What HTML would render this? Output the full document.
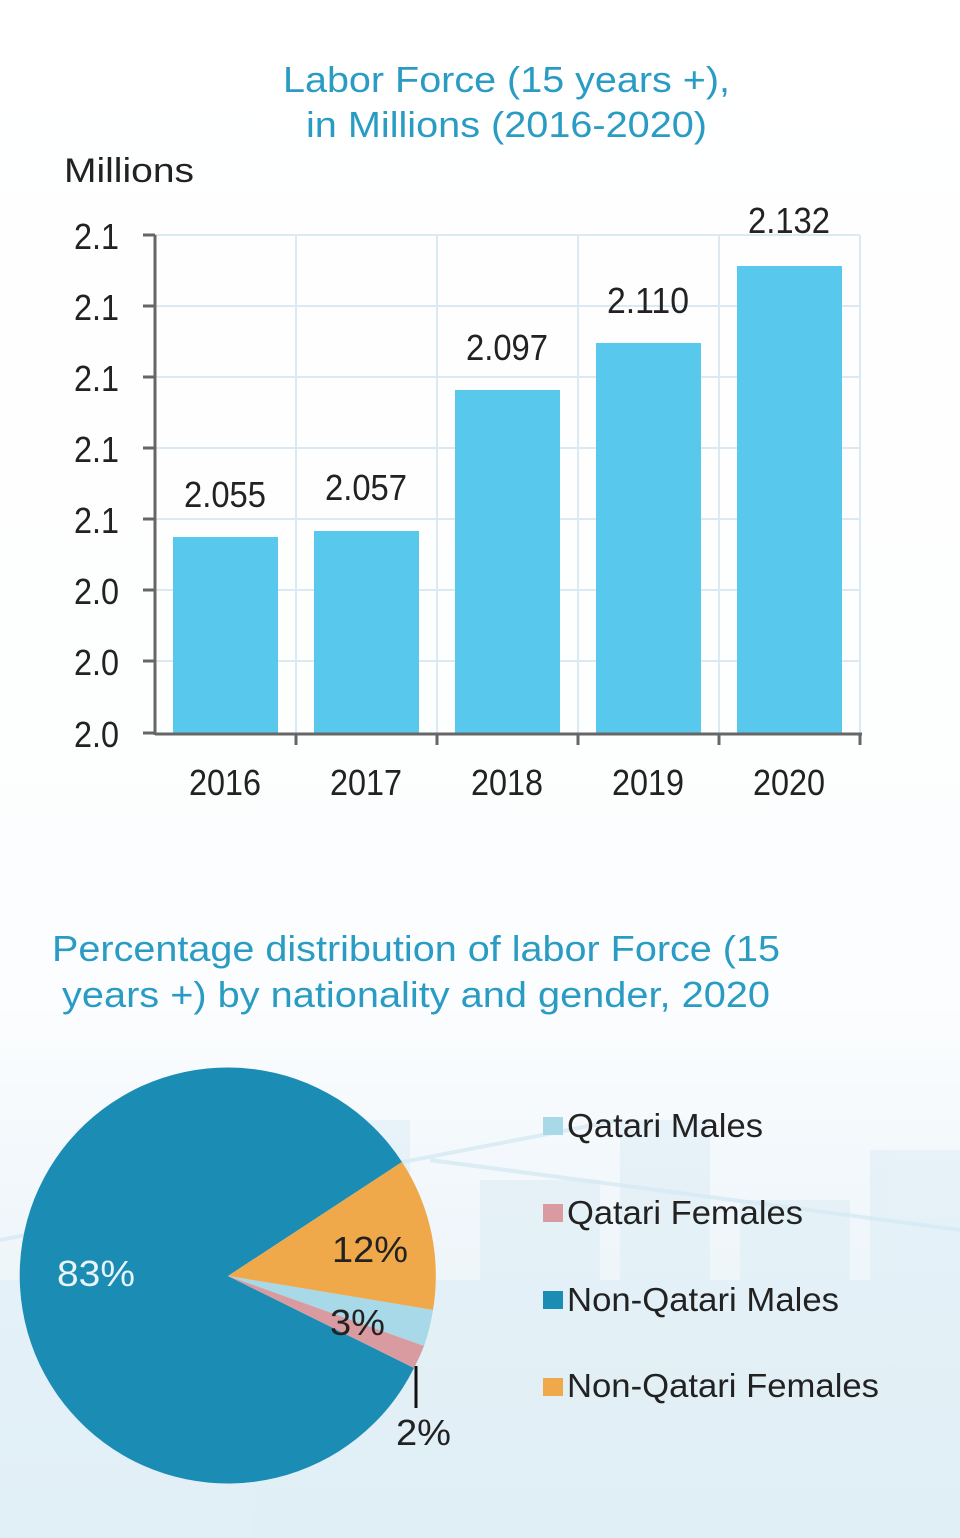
<!DOCTYPE html>
<html><head><meta charset="utf-8"><style>
html,body{margin:0;padding:0;background:#fff;}
svg{display:block;}
text{font-family:"Liberation Sans",sans-serif;}
</style></head><body>
<svg width="960" height="1538" viewBox="0 0 960 1538" xmlns="http://www.w3.org/2000/svg">
<defs>
<linearGradient id="bg" x1="0" y1="0" x2="0" y2="1">
<stop offset="0" stop-color="#ffffff"/>
<stop offset="0.65" stop-color="#fcfdfe"/>
<stop offset="0.78" stop-color="#f1f7fb"/>
<stop offset="1" stop-color="#e6f1f7"/>
</linearGradient>
</defs>
<rect width="960" height="1538" fill="url(#bg)"/>
<g fill="#dcedf5" opacity="0.55">
<rect x="0" y="1280" width="960" height="258"/>
<rect x="480" y="1180" width="120" height="358"/>
<rect x="620" y="1120" width="90" height="418"/>
<rect x="740" y="1200" width="110" height="338"/>
<rect x="870" y="1150" width="90" height="388"/>
<rect x="330" y="1120" width="80" height="418"/>
</g>
<g stroke="#d6eaf3" stroke-width="4" fill="none" opacity="0.8">
<line x1="0" y1="1240" x2="620" y2="1120"/>
<line x1="430" y1="1160" x2="960" y2="1230"/>
</g>

<text x="283" y="92" font-size="36" fill="#2a9cc4" textLength="447" lengthAdjust="spacingAndGlyphs">Labor Force (15 years +),</text>
<text x="306" y="137" font-size="36" fill="#2a9cc4" textLength="401" lengthAdjust="spacingAndGlyphs">in Millions (2016-2020)</text>
<text x="64" y="182" font-size="34" fill="#222" textLength="130" lengthAdjust="spacingAndGlyphs">Millions</text>

<g stroke="#dbe9f2" stroke-width="2">
<line x1="155" y1="235" x2="860" y2="235"/>
<line x1="155" y1="306" x2="860" y2="306"/>
<line x1="155" y1="377" x2="860" y2="377"/>
<line x1="155" y1="448" x2="860" y2="448"/>
<line x1="155" y1="519" x2="860" y2="519"/>
<line x1="155" y1="590" x2="860" y2="590"/>
<line x1="155" y1="661" x2="860" y2="661"/>
<line x1="296" y1="235" x2="296" y2="733"/>
<line x1="437" y1="235" x2="437" y2="733"/>
<line x1="578" y1="235" x2="578" y2="733"/>
<line x1="719" y1="235" x2="719" y2="733"/>
<line x1="860" y1="235" x2="860" y2="733"/>
</g>
<g fill="#58c9ec">
<rect x="173" y="537" width="105" height="196"/>
<rect x="314" y="531" width="105" height="202"/>
<rect x="455" y="390" width="105" height="343"/>
<rect x="596" y="343" width="105" height="390"/>
<rect x="737" y="266" width="105" height="467"/>
</g>
<g stroke="#666" stroke-width="3" fill="none">
<line x1="155" y1="235" x2="155" y2="735"/>
<line x1="155" y1="734" x2="862" y2="734"/>
<line x1="143" y1="235" x2="155" y2="235"/>
<line x1="143" y1="306" x2="155" y2="306"/>
<line x1="143" y1="377" x2="155" y2="377"/>
<line x1="143" y1="448" x2="155" y2="448"/>
<line x1="143" y1="519" x2="155" y2="519"/>
<line x1="143" y1="590" x2="155" y2="590"/>
<line x1="143" y1="661" x2="155" y2="661"/>
<line x1="143" y1="733" x2="155" y2="733"/>
<line x1="296" y1="734" x2="296" y2="745"/>
<line x1="437" y1="734" x2="437" y2="745"/>
<line x1="578" y1="734" x2="578" y2="745"/>
<line x1="719" y1="734" x2="719" y2="745"/>
<line x1="860" y1="734" x2="860" y2="745"/>
</g>
<g font-size="36" fill="#222">
<text x="74" y="249" textLength="45" lengthAdjust="spacingAndGlyphs">2.1</text>
<text x="74" y="320" textLength="45" lengthAdjust="spacingAndGlyphs">2.1</text>
<text x="74" y="391" textLength="45" lengthAdjust="spacingAndGlyphs">2.1</text>
<text x="74" y="462" textLength="45" lengthAdjust="spacingAndGlyphs">2.1</text>
<text x="74" y="533" textLength="45" lengthAdjust="spacingAndGlyphs">2.1</text>
<text x="74" y="604" textLength="45" lengthAdjust="spacingAndGlyphs">2.0</text>
<text x="74" y="675" textLength="45" lengthAdjust="spacingAndGlyphs">2.0</text>
<text x="74" y="747" textLength="45" lengthAdjust="spacingAndGlyphs">2.0</text>
<text x="189" y="795" textLength="72" lengthAdjust="spacingAndGlyphs">2016</text>
<text x="330" y="795" textLength="72" lengthAdjust="spacingAndGlyphs">2017</text>
<text x="471" y="795" textLength="72" lengthAdjust="spacingAndGlyphs">2018</text>
<text x="612" y="795" textLength="72" lengthAdjust="spacingAndGlyphs">2019</text>
<text x="753" y="795" textLength="72" lengthAdjust="spacingAndGlyphs">2020</text>
<text x="184" y="507" textLength="82" lengthAdjust="spacingAndGlyphs">2.055</text>
<text x="325" y="500" textLength="82" lengthAdjust="spacingAndGlyphs">2.057</text>
<text x="466" y="360" textLength="82" lengthAdjust="spacingAndGlyphs">2.097</text>
<text x="607" y="313" textLength="82" lengthAdjust="spacingAndGlyphs">2.110</text>
<text x="748" y="233" textLength="82" lengthAdjust="spacingAndGlyphs">2.132</text>
</g>

<text x="52" y="961" font-size="36" fill="#2a9cc4" textLength="728" lengthAdjust="spacingAndGlyphs">Percentage distribution of labor Force (15</text>
<text x="62" y="1007" font-size="36" fill="#2a9cc4" textLength="708" lengthAdjust="spacingAndGlyphs">years +) by nationality and gender, 2020</text>

<g transform="translate(228,1276)">
<path d="M0,0 L186,92 A208,208 0 1,1 174,-114 Z" fill="#1b8db5"/>
<path d="M0,0 L174,-114 A208,208 0 0,1 205,34 Z" fill="#f0a94a"/>
<path d="M0,0 L205,34 A208,208 0 0,1 196,70 Z" fill="#a8d9e8"/>
<path d="M0,0 L196,70 A208,208 0 0,1 186,92 Z" fill="#d99aa0"/>
</g>
<line x1="416" y1="1366" x2="416" y2="1408" stroke="#111" stroke-width="3"/>
<g font-size="36">
<text x="57" y="1286" fill="#e8f4f8" textLength="78" lengthAdjust="spacingAndGlyphs">83%</text>
<text x="332" y="1262" fill="#222" textLength="76" lengthAdjust="spacingAndGlyphs">12%</text>
<text x="330" y="1335" fill="#222" textLength="55" lengthAdjust="spacingAndGlyphs">3%</text>
<text x="396" y="1445" fill="#222" textLength="55" lengthAdjust="spacingAndGlyphs">2%</text>
</g>
<rect x="543" y="1117" width="20" height="18" fill="#a8d9e8"/>
<rect x="543" y="1204" width="20" height="18" fill="#d99aa0"/>
<rect x="543" y="1291" width="20" height="18" fill="#1b8db5"/>
<rect x="543" y="1378" width="20" height="18" fill="#f0a94a"/>
<g font-size="33" fill="#222">
<text x="567" y="1137" textLength="196" lengthAdjust="spacingAndGlyphs">Qatari Males</text>
<text x="567" y="1224" textLength="236" lengthAdjust="spacingAndGlyphs">Qatari Females</text>
<text x="567" y="1311" textLength="272" lengthAdjust="spacingAndGlyphs">Non-Qatari Males</text>
<text x="567" y="1397" textLength="312" lengthAdjust="spacingAndGlyphs">Non-Qatari Females</text>
</g>
</svg>
</body></html>
